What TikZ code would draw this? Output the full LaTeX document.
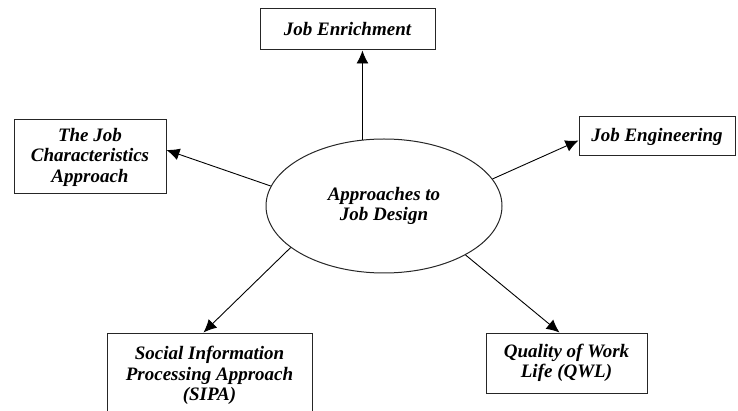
\documentclass[tikz,border=0pt]{standalone}
\usepackage{fontspec}
\setmainfont{Liberation Serif}
\usetikzlibrary{arrows.meta,positioning,shapes}
\tikzstyle{approach}=[rectangle,draw=black!85,line width=1pt,align=center,
font=\bfseries\itshape\fontsize{19}{20.5}\selectfont,inner sep=2pt]
\tikzstyle{centre}=[ellipse,draw=black!85,line width=1pt,align=center,
font=\bfseries\itshape\fontsize{19}{20.5}\selectfont,inner sep=0pt,
minimum width=236pt,minimum height=134pt]
\tikzstyle{arr}=[-{Latex[length=13pt,width=12pt]},line width=0.9pt]

\begin{document}
\begin{tikzpicture}[x=1pt,y=-1pt]
            \useasboundingbox (0,0) rectangle (738,411);

            % centre
            \node[centre] (design) at (384,206) {Approaches to\\Job Design};

            % approaches
            \node[approach,minimum width=175pt,minimum height=41pt] (enrich) at (347.5,29.5) {Job Enrichment};
            \node[approach,minimum width=152pt,minimum height=74pt] (jca) at (90,157) {The Job\\Characteristics\\Approach};
            \node[approach,minimum width=156pt,minimum height=39pt] (eng) at (657,136.5) {Job Engineering};
            \node[approach,minimum width=205pt,minimum height=85pt] (sipa) at (209.5,375.5) {Social Information\\Processing Approach\\(SIPA)};
            \node[approach,minimum width=161pt,minimum height=60pt] (qwl) at (566.5,363) {Quality of Work\\Life (QWL)};

            % arrows
            \draw[arr] (design.108) -- (design.108 |- enrich.south);
            \draw[arr] (design.170) -- ([yshift=7pt]jca.east);
            \draw[arr] (design.14) -- ([yshift=-4pt]eng.west);
            \draw[arr] (design.204) -- ([xshift=-6pt]sipa.north);
            \draw[arr] (design.-31) -- ([xshift=-7pt]qwl.north);

        \end{tikzpicture}
\end{document}
